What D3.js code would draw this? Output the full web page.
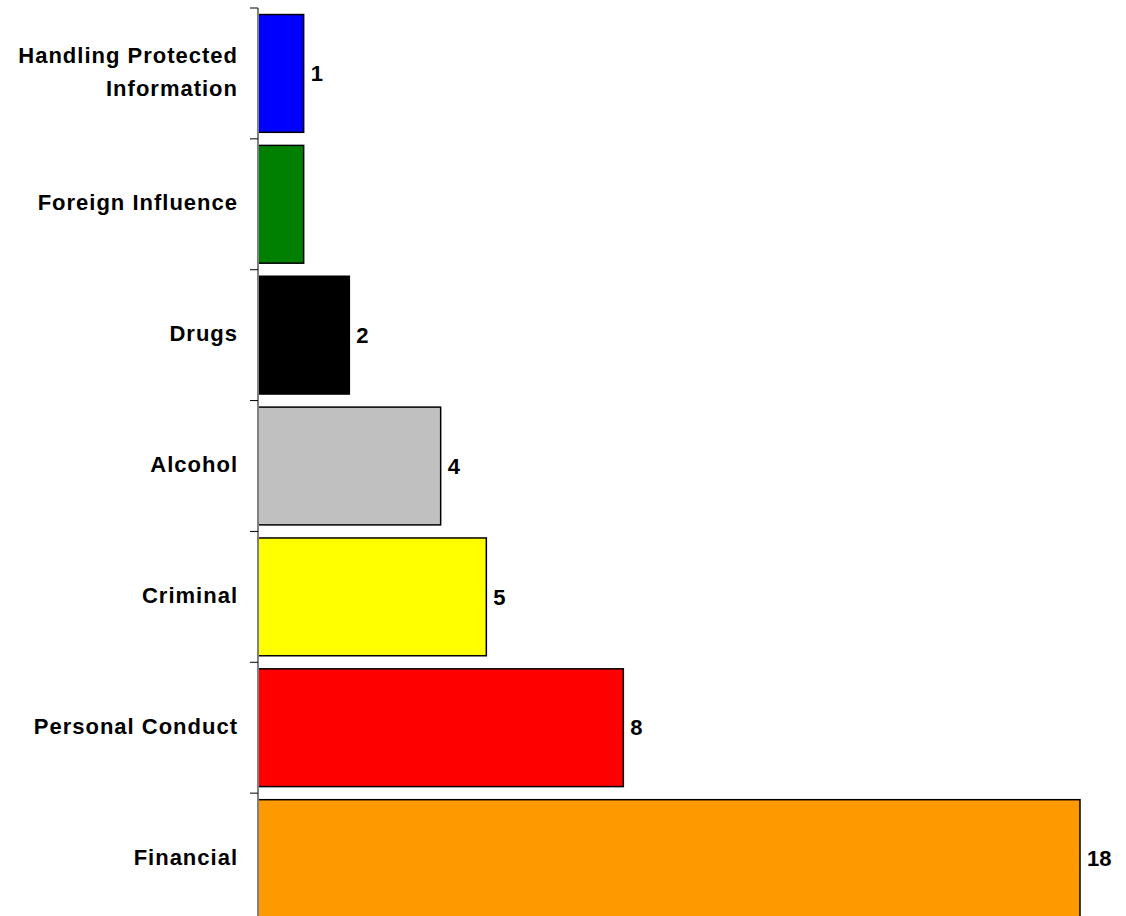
<!DOCTYPE html>
<html>
<head>
<meta charset="utf-8">
<script src="https://cdn.jsdelivr.net/npm/d3@7.9.0/dist/d3.min.js"></script>
<style>
  html, body { margin: 0; padding: 0; background: #fff; }
  svg { display: block; font-family: "Liberation Sans", Arial, sans-serif; }
</style>
</head>
<body>
<svg id="chart" width="1126" height="916"></svg>
<script>
// data, top to bottom
const categories = ['Handling Protected Information', 'Foreign Influence', 'Drugs', 'Alcohol', 'Criminal', 'Personal Conduct', 'Financial'];
const values = [1, 1, 2, 4, 5, 8, 18];
const valueLabels = ['1', '', '2', '4', '5', '8', '18'];
const barColors = ['#0000ff', '#008000', '#000000', '#c0c0c0', '#ffff00', '#ff0000', '#ff9900'];

const svg = d3.select('#chart');
const axisX = 258;

const x = d3.scaleLinear().domain([0, 18]).range([axisX, 1080]);
const y = d3.scaleBand()
    .domain(categories)
    .range([8, 924])
    .paddingInner(0.1)
    .paddingOuter(0.05);

const rows = categories.map((c, i) => ({ cat: c, value: values[i], label: valueLabels[i], color: barColors[i] }));

// bars
svg.append('g').selectAll('rect')
    .data(rows)
    .join('rect')
    .attr('x', x(0))
    .attr('y', d => y(d.cat))
    .attr('width', d => x(d.value) - x(0))
    .attr('height', y.bandwidth())
    .attr('fill', d => d.color)
    .attr('stroke', '#000')
    .attr('stroke-width', 1.5);

// value labels
svg.append('g').selectAll('text')
    .data(rows)
    .join('text')
    .attr('x', d => x(d.value) + 7)
    .attr('y', d => y(d.cat) + y.bandwidth() / 2)
    .attr('dy', '0.35em')
    .attr('font-size', 22)
    .attr('font-weight', 'bold')
    .attr('fill', '#000')
    .text(d => d.label);

// y axis: gray line, black ticks at band edges
const step = y.step();
svg.append('line')
    .attr('x1', axisX).attr('x2', axisX)
    .attr('y1', y(categories[0]) - y.paddingInner() * step / 2)
    .attr('y2', 916)
    .attr('stroke', '#808080')
    .attr('stroke-width', 2);

svg.append('g').selectAll('line')
    .data(categories)
    .join('line')
    .attr('x1', axisX - 8).attr('x2', axisX)
    .attr('y1', d => y(d) - y.paddingInner() * step / 2)
    .attr('y2', d => y(d) - y.paddingInner() * step / 2)
    .attr('stroke', '#000')
    .attr('stroke-width', 1);

// category labels, wrapped like the original
const wrap = { 'Handling Protected Information': ['Handling Protected', 'Information'] };
const catLabels = svg.append('g').selectAll('text')
    .data(categories)
    .join('text')
    .attr('x', 238)
    .attr('y', d => y(d) + y.bandwidth() / 2)
    .attr('text-anchor', 'end')
    .attr('font-size', 22)
    .attr('font-weight', 'bold')
    .attr('letter-spacing', 1)
    .attr('fill', '#000');

catLabels.each(function (d) {
    const lines = wrap[d] || [d];
    const t = d3.select(this);
    const lh = 33;
    lines.forEach((ln, i) => {
        t.append('tspan')
            .attr('x', 238)
            .attr('dy', i === 0 ? (0.35 * 22 - (lines.length - 1) * lh / 2 - 1.5) : lh)
            .text(ln);
    });
});
</script>
</body>
</html>
